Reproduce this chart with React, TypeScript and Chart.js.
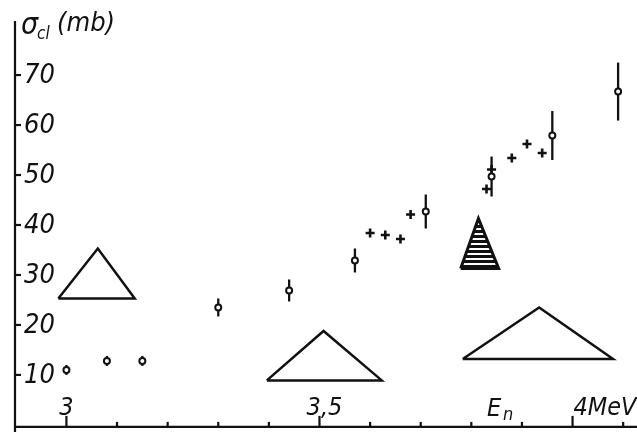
import React, { useEffect, useRef } from 'react';
import { Chart, registerables } from 'chart.js';
Chart.register(...registerables);

// open circles with error bars (E_n in MeV, sigma in mb)
const circleX = [3.0, 3.08, 3.15, 3.3, 3.44, 3.57, 3.71, 3.84, 3.96, 4.09];
const circleY = [11.0, 12.8, 12.8, 23.5, 26.9, 32.9, 42.7, 49.7, 57.9, 66.7];
const circleErr = [1.0, 1.0, 1.0, 1.8, 2.2, 2.4, 3.4, 4.0, 4.9, 5.8];

// crosses
const crossX = [3.6, 3.63, 3.66, 3.68, 3.83, 3.84, 3.88, 3.91, 3.94];
const crossY = [38.4, 38.0, 37.2, 42.1, 47.2, 51.1, 53.4, 56.2, 54.4];

// resolution triangles (x, y vertices)
const tri1X = [2.984, 3.062, 3.135, 2.984];
const tri1Y = [25.3, 35.3, 25.3, 25.3];
const tri2X = [3.396, 3.508, 3.623, 3.396];
const tri2Y = [8.9, 18.8, 8.9, 8.9];
const tri3X = [3.779, 3.814, 3.854, 3.779];
const tri3Y = [31.3, 41.3, 31.3, 31.3];
const tri4X = [3.783, 3.934, 4.08, 3.783];
const tri4Y = [13.2, 23.5, 13.2, 13.2];

// axes
const yTicks = [10, 20, 30, 40, 50, 60, 70];
const yTickLabels = ['10', '20', '30', '40', '50', '60', '70'];
const xMajorTicks = [3, 3.5, 4];
const xMajorLabels = ['3', '3,5', '4MeV'];
const xMinorTicks = [3.1, 3.2, 3.3, 3.4, 3.6, 3.7, 3.8, 3.9, 4.1];

const FONT = "'Liberation Sans Narrow', 'DejaVu Sans Condensed', 'Liberation Sans', sans-serif";

const zip = (xs: number[], ys: number[]) => xs.map((x, i) => ({ x, y: ys[i] }));

export default function App() {
  const ref = useRef<HTMLCanvasElement | null>(null);
  useEffect(() => {
    document.body.style.margin = '0';
    const canvas = ref.current!;
    const pc = document.createElement('canvas');
    pc.width = 8;
    pc.height = 5;
    const pctx = pc.getContext('2d')!;
    pctx.fillStyle = '#fff';
    pctx.fillRect(0, 0, 8, 5);
    pctx.fillStyle = '#111';
    pctx.fillRect(0, 0, 8, 3);
    const pattern = canvas.getContext('2d')!.createPattern(pc, 'repeat');

    const decor = {
      id: 'decor',
      beforeDatasetsDraw(chart: any) {
        const { ctx } = chart;
        const xs = chart.scales.x;
        const ys = chart.scales.y;
        ctx.save();
        ctx.strokeStyle = '#111';
        ctx.lineWidth = 2.3;
        circleX.forEach((x, i) => {
          const px = xs.getPixelForValue(x);
          ctx.beginPath();
          ctx.moveTo(px, ys.getPixelForValue(circleY[i] - circleErr[i]));
          ctx.lineTo(px, ys.getPixelForValue(circleY[i] + circleErr[i]));
          ctx.stroke();
        });
        ctx.restore();
      },
      afterDraw(chart: any) {
        const { ctx } = chart;
        const xs = chart.scales.x;
        const ys = chart.scales.y;
        const x0 = xs.left;
        const y0 = ys.getPixelForValue(0) + 2;
        ctx.save();
        ctx.strokeStyle = '#111';
        ctx.fillStyle = '#111';
        ctx.lineWidth = 2.2;
        // axis lines
        ctx.beginPath();
        ctx.moveTo(x0, 21);
        ctx.lineTo(x0, 432);
        ctx.moveTo(x0, y0);
        ctx.lineTo(chart.width, y0);
        ctx.stroke();
        // y ticks
        ctx.font = `italic 27px ${FONT}`;
        ctx.textAlign = 'left';
        ctx.textBaseline = 'middle';
        yTicks.forEach((v, i) => {
          const py = ys.getPixelForValue(v);
          ctx.beginPath();
          ctx.moveTo(x0, py);
          ctx.lineTo(x0 + 6, py);
          ctx.stroke();
          ctx.fillText(yTickLabels[i], x0 + 9, py + 1);
        });
        // x ticks
        xMajorTicks.forEach((v) => {
          const px = xs.getPixelForValue(v);
          ctx.beginPath();
          ctx.moveTo(px, y0);
          ctx.lineTo(px, y0 - 11);
          ctx.stroke();
        });
        xMinorTicks.forEach((v) => {
          const px = xs.getPixelForValue(v);
          ctx.beginPath();
          ctx.moveTo(px, y0);
          ctx.lineTo(px, y0 - 5);
          ctx.stroke();
        });
        ctx.font = `italic 25px ${FONT}`;
        ctx.textBaseline = 'alphabetic';
        const offs = [0, 5, 0];
        xMajorLabels.forEach((t, i) => {
          const px = xs.getPixelForValue(xMajorTicks[i]);
          if (i === 2) {
            ctx.textAlign = 'left';
            ctx.fillText(t, px + 1, 415);
          } else {
            ctx.textAlign = 'center';
            ctx.fillText(t, px + offs[i], 415);
          }
        });
        // E_n
        ctx.textAlign = 'left';
        ctx.font = `italic 25px ${FONT}`;
        ctx.fillText('E', 487, 416);
        ctx.font = `italic 18px ${FONT}`;
        ctx.fillText('n', 503, 420);
        // y title
        ctx.font = `italic 30px ${FONT}`;
        ctx.fillText('σ', 21, 34);
        ctx.font = `italic 17px ${FONT}`;
        ctx.fillText('cl', 37, 39);
        ctx.font = `italic 27px ${FONT}`;
        ctx.fillText('(mb)', 57, 31);
        ctx.restore();
      },
    };

    const triStyle = {
      showLine: true,
      pointRadius: 0,
      borderColor: '#111',
      borderWidth: 2.5,
      fill: false,
      tension: 0,
    };

    const chart = new Chart(canvas, {
      type: 'scatter',
      data: {
        datasets: [
          { label: 'tri1', data: zip(tri1X, tri1Y), ...triStyle },
          { label: 'tri2', data: zip(tri2X, tri2Y), ...triStyle },
          {
            label: 'tri3',
            data: zip(tri3X, tri3Y),
            ...triStyle,
            borderWidth: 3,
            fill: 'shape',
            backgroundColor: pattern as any,
          },
          { label: 'tri4', data: zip(tri4X, tri4Y), ...triStyle },
          {
            label: 'crosses',
            data: zip(crossX, crossY),
            pointStyle: 'cross',
            pointRadius: 4.5,
            borderColor: '#111',
            borderWidth: 2.6,
            showLine: false,
          },
          {
            label: 'circles',
            data: zip(circleX, circleY),
            pointStyle: 'circle',
            pointRadius: 3,
            backgroundColor: '#fff',
            borderColor: '#111',
            borderWidth: 2,
            showLine: false,
          },
        ],
      },
      options: {
        responsive: false,
        animation: false,
        devicePixelRatio: 1,
        layout: { padding: { left: 15, top: 0, right: 0, bottom: 4 } },
        plugins: { legend: { display: false }, tooltip: { enabled: false } },
        scales: {
          x: { type: 'linear', min: 2.8984, max: 4.1133, display: false },
          y: { type: 'linear', min: 0, max: 83.6, display: false },
        },
      },
      plugins: [decor],
    });
    return () => chart.destroy();
  }, []);
  return (
    <div style={{ width: 637, height: 432, background: '#fff' }}>
      <canvas ref={ref} width={637} height={432} />
    </div>
  );
}
